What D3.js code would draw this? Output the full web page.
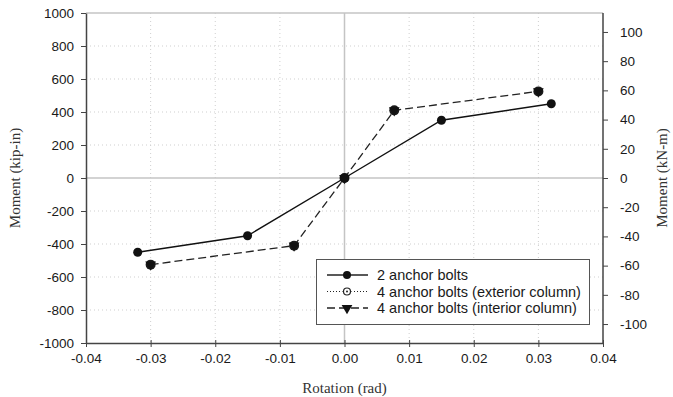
<!DOCTYPE html>
<html>
<head>
<meta charset="utf-8">
<script src="https://cdn.jsdelivr.net/npm/d3@7"></script>
<style>
  body { margin: 0; background: #fff; }
  svg { display: block; }
</style>
</head>
<body>
<svg id="chart" width="673" height="397"></svg>
<script>
// data
var xTicks = [-0.04, -0.03, -0.02, -0.01, 0, 0.01, 0.02, 0.03, 0.04];
var yTicks = [-1000, -800, -600, -400, -200, 0, 200, 400, 600, 800, 1000];
var y2Ticks = [-100, -80, -60, -40, -20, 0, 20, 40, 60, 80, 100];

var twoBoltsRot = [-0.032, -0.015, 0, 0.015, 0.032];
var twoBoltsMom = [-450, -350, 0, 350, 450];
// exterior column series sits under the interior one
var extRot = [-0.030, -0.0078, 0, 0.0077, 0.030];
var extMom = [-525, -410, 0, 410, 525];
var intRot = [-0.030, -0.0078, 0, 0.0077, 0.030];
var intMom = [-525, -410, 0, 410, 525];

var legendLabels = ["2 anchor bolts", "4 anchor bolts (exterior column)", "4 anchor bolts (interior column)"];

var svg = d3.select("#chart");
var pl = 86, pr = 603, pt = 13, pb = 343;

var x = d3.scaleLinear().domain([-0.04, 0.04]).range([pl, pr]);
var y = d3.scaleLinear().domain([-1000, 1000]).range([pb, pt]);
// 1 kip-in = 0.113 kN-m
var y2 = d3.scaleLinear().domain([-112.98, 112.98]).range([pb, pt]);

// hyphen minus like the original
var f2 = function(d) { return d3.format(".2f")(d).replace("\u2212", "-"); };
var fi = function(d) { return d3.format("d")(d).replace("\u2212", "-"); };

// grid
var grid = svg.append("g");
grid.selectAll("line.gx")
    .data(xTicks.filter(function(d) { return d !== 0 && Math.abs(d) !== 0.04; }))
    .enter().append("line")
    .attr("x1", function(d) { return x(d); }).attr("x2", function(d) { return x(d); })
    .attr("y1", pt).attr("y2", pb)
    .attr("stroke", "#cfcfcf").attr("stroke-dasharray", "1,3");
grid.selectAll("line.gy")
    .data(yTicks.filter(function(d) { return d !== 0 && Math.abs(d) !== 1000; }))
    .enter().append("line")
    .attr("x1", pl).attr("x2", pr)
    .attr("y1", function(d) { return y(d); }).attr("y2", function(d) { return y(d); })
    .attr("stroke", "#cfcfcf").attr("stroke-dasharray", "1,3");

// zero lines and top border
grid.append("line").attr("x1", x(0)).attr("x2", x(0)).attr("y1", pt).attr("y2", pb)
    .attr("stroke", "#c4c4c4").attr("stroke-width", 1.5);
grid.append("line").attr("x1", pl).attr("x2", pr).attr("y1", y(0)).attr("y2", y(0))
    .attr("stroke", "#c4c4c4").attr("stroke-width", 1.5);
grid.append("line").attr("x1", pl).attr("x2", pr).attr("y1", y(1000)).attr("y2", y(1000))
    .attr("stroke", "#c4c4c4").attr("stroke-width", 1.5);

// axes
function styleAxis(g) {
    g.selectAll(".domain").attr("stroke", "#444").attr("stroke-width", 1.5);
    g.selectAll(".tick line").attr("stroke", "#444");
    g.selectAll("text").attr("fill", "#1a1a1a")
        .style("font-family", "'Liberation Sans', Arial, sans-serif").style("font-size", "13.5px");
}

var xAxis = svg.append("g")
    .attr("transform", "translate(0," + pb + ")")
    .call(d3.axisBottom(x).tickValues(xTicks).tickFormat(f2)
        .tickSizeInner(4).tickSizeOuter(0).tickPadding(6));
xAxis.selectAll(".tick line").attr("y1", -3);
styleAxis(xAxis);

var yAxis = svg.append("g")
    .attr("transform", "translate(" + pl + ",0)")
    .call(d3.axisLeft(y).tickValues(yTicks).tickFormat(fi)
        .tickSizeInner(5).tickSizeOuter(0).tickPadding(7));
styleAxis(yAxis);

var y2Axis = svg.append("g")
    .attr("transform", "translate(" + pr + ",0)")
    .call(d3.axisRight(y2).tickValues(y2Ticks).tickFormat(fi)
        .tickSizeInner(5).tickSizeOuter(0).tickPadding(12));
styleAxis(y2Axis);
y2Axis.select(".domain").attr("d", "M0," + pt + "V" + pb);

// axis titles
var titleFont = "'Liberation Serif', 'Times New Roman', serif";
svg.append("text")
    .attr("transform", "translate(20," + y(0) + ") rotate(-90)")
    .attr("text-anchor", "middle")
    .style("font-family", titleFont).style("font-size", "15px").attr("fill", "#333")
    .text("Moment (kip-in)");
svg.append("text")
    .attr("transform", "translate(667," + y(0) + ") rotate(-90)")
    .attr("text-anchor", "middle")
    .style("font-family", titleFont).style("font-size", "15px").attr("fill", "#333")
    .text("Moment (kN-m)");
svg.append("text")
    .attr("x", x(0)).attr("y", 393)
    .attr("text-anchor", "middle")
    .style("font-family", titleFont).style("font-size", "15px").attr("fill", "#333")
    .text("Rotation (rad)");

// series
var line = d3.line()
    .x(function(d) { return x(d[0]); })
    .y(function(d) { return y(d[1]); });

var s1 = d3.zip(twoBoltsRot, twoBoltsMom);
var s2 = d3.zip(extRot, extMom);
var s3 = d3.zip(intRot, intMom);

var tri = d3.symbol().type(d3.symbolTriangle).size(50);

// dashed line covers the dotted one completely in the original
svg.append("path").datum(s3).attr("d", line)
    .attr("fill", "none").attr("stroke", "#222").attr("stroke-width", 1.3).attr("stroke-dasharray", "8,4");
svg.append("path").datum(s1).attr("d", line)
    .attr("fill", "none").attr("stroke", "#111").attr("stroke-width", 1.4);

svg.selectAll("circle.ext").data(s2).enter().append("circle")
    .attr("cx", function(d) { return x(d[0]); }).attr("cy", function(d) { return y(d[1]); })
    .attr("r", 5).attr("fill", "#1a1a1a");
svg.selectAll("path.int").data(s3).enter().append("path")
    .attr("d", tri)
    .attr("transform", function(d) { return "translate(" + x(d[0]) + "," + y(d[1]) + ") rotate(180)"; })
    .attr("fill", "#111");
svg.selectAll("circle.two").data(s1).enter().append("circle")
    .attr("cx", function(d) { return x(d[0]); }).attr("cy", function(d) { return y(d[1]); })
    .attr("r", 4.5).attr("fill", "#111");

// legend
var lg = svg.append("g");
lg.append("rect").attr("x", 316.5).attr("y", 259.5).attr("width", 273).attr("height", 65)
    .attr("fill", "#fff").attr("stroke", "#555").attr("stroke-width", 1);
var rowY = [275, 291.5, 308];
var dashes = [null, "1,2", "8,4"];
legendLabels.forEach(function(label, i) {
    var ly = rowY[i];
    lg.append("line").attr("x1", 327).attr("x2", 368).attr("y1", ly).attr("y2", ly)
        .attr("stroke", "#222").attr("stroke-width", i === 1 ? 1 : 1.3)
        .attr("stroke-dasharray", dashes[i]);
    if (i === 0) {
        lg.append("circle").attr("cx", 347).attr("cy", ly).attr("r", 4).attr("fill", "#111");
    } else if (i === 1) {
        lg.append("circle").attr("cx", 347).attr("cy", ly).attr("r", 4.5).attr("fill", "#fff");
        lg.append("circle").attr("cx", 347).attr("cy", ly).attr("r", 3.5)
            .attr("fill", "#fff").attr("stroke", "#222").attr("stroke-width", 1.2);
        lg.append("circle").attr("cx", 347).attr("cy", ly).attr("r", 1).attr("fill", "#222");
    } else {
        lg.append("path").attr("d", tri)
            .attr("transform", "translate(347," + ly + ") rotate(180)").attr("fill", "#111");
    }
    lg.append("text").attr("x", 377).attr("y", ly).attr("dy", "0.35em")
        .style("font-family", "'Liberation Sans', Arial, sans-serif").style("font-size", "14.5px")
        .attr("fill", "#1a1a1a")
        .text(label);
});
</script>
</body>
</html>
